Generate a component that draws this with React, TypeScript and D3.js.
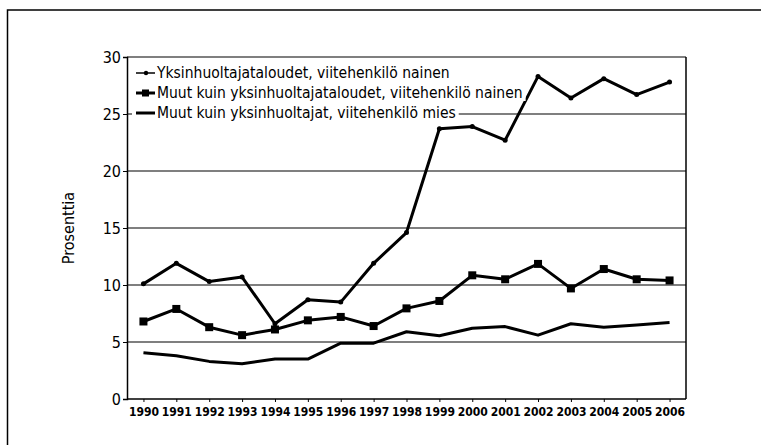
import React, { useRef, useEffect } from 'react';
import * as d3 from 'd3';

const years = [1990, 1991, 1992, 1993, 1994, 1995, 1996, 1997, 1998, 1999, 2000, 2001, 2002, 2003, 2004, 2005, 2006];
const yksinNainen = [10.1, 11.9, 10.3, 10.7, 6.6, 8.7, 8.5, 11.9, 14.6, 23.7, 23.9, 22.7, 28.3, 26.4, 28.1, 26.7, 27.8];
const muutNainen = [6.8, 7.9, 6.3, 5.6, 6.1, 6.9, 7.2, 6.4, 7.95, 8.6, 10.85, 10.5, 11.85, 9.7, 11.4, 10.5, 10.4];
const muutMies = [4.06, 3.8, 3.3, 3.1, 3.5, 3.5, 4.9, 4.9, 5.9, 5.55, 6.2, 6.35, 5.6, 6.6, 6.3, 6.5, 6.7];
const seriesNames = [
  'Yksinhuoltajataloudet, viitehenkilö nainen',
  'Muut kuin yksinhuoltajataloudet, viitehenkilö nainen',
  'Muut kuin yksinhuoltajat, viitehenkilö mies',
];
const yTicks = [0, 5, 10, 15, 20, 25, 30];

const W = 761;
const H = 445;
const left = 127;
const right = 686;
const top = 57;
const bottom = 399;
const font = "'DejaVu Sans Condensed', 'DejaVu Sans', sans-serif";

export default function App() {
  const ref = useRef<SVGSVGElement>(null);

  useEffect(() => {
    const svg = d3.select(ref.current);
    svg.selectAll('*').remove();

    const x = d3.scalePoint<number>().domain(years).range([left, right]).padding(0.5);
    const y = d3.scaleLinear().domain([0, 30]).range([bottom, top]);

    // outer frame
    svg.append('path')
      .attr('d', `M7.5,${H + 2} L7.5,10 L${W + 2},10`)
      .attr('fill', 'none').attr('stroke', '#000').attr('stroke-width', 1.5);

    // gridlines
    svg.append('g').selectAll('line').data(yTicks.filter((t) => t > 0)).join('line')
      .attr('x1', left).attr('x2', right)
      .attr('y1', (d) => y(d)).attr('y2', (d) => y(d))
      .attr('stroke', '#000').attr('stroke-width', 1.2);

    svg.append('line').attr('x1', right).attr('x2', right).attr('y1', top).attr('y2', bottom)
      .attr('stroke', '#000').attr('stroke-width', 1.5);

    const yAxis = d3.axisLeft(y).tickValues(yTicks).tickSize(4).tickPadding(2);
    const yg = svg.append('g').attr('transform', `translate(${left},0)`).call(yAxis);
    yg.select('.domain').attr('stroke-width', 1.5);
    yg.selectAll('text').attr('font-family', font).attr('font-size', 16).attr('fill', '#000');

    const xAxis = d3.axisBottom(x).tickSize(3).tickPadding(5).tickSizeOuter(0);
    const xg = svg.append('g').attr('transform', `translate(0,${bottom})`).call(xAxis);
    xg.select('.domain').attr('d', `M${left},0H${right}`).attr('stroke-width', 1.5);
    xg.selectAll('text').attr('font-family', font).attr('font-size', 12).attr('font-weight', 'bold').attr('fill', '#000');

    svg.append('text')
      .attr('transform', `translate(74,${(top + bottom) / 2}) rotate(-90)`)
      .attr('text-anchor', 'middle')
      .attr('font-family', font).attr('font-size', 16)
      .text('Prosenttia');

    const line = d3.line<number>().x((_, i) => x(years[i])!).y((d) => y(d));
    const data = [yksinNainen, muutNainen, muutMies];
    data.forEach((vals) => {
      svg.append('path').datum(vals).attr('d', line)
        .attr('fill', 'none').attr('stroke', '#000').attr('stroke-width', 3).attr('stroke-linejoin', 'round');
    });
    svg.append('g').selectAll('circle').data(yksinNainen).join('circle')
      .attr('cx', (_, i) => x(years[i])!).attr('cy', (d) => y(d)).attr('r', 2.5).attr('fill', '#000');
    svg.append('g').selectAll('rect').data(muutNainen).join('rect')
      .attr('x', (_, i) => x(years[i])! - 4).attr('y', (d) => y(d) - 4)
      .attr('width', 8).attr('height', 8).attr('fill', '#000');

    // legend
    const lg = svg.append('g');
    seriesNames.forEach((name, i) => {
      const ly = 73 + i * 20;
      const t = lg.append('text').attr('x', 157).attr('y', ly).attr('dy', '0.35em')
        .attr('font-family', font).attr('font-size', 15.5).text(name);
      const tw = (t.node() as SVGTextElement).getComputedTextLength();
      lg.insert('rect', 'text').attr('x', 132).attr('y', ly - 7).attr('width', tw + 28).attr('height', 15).attr('fill', '#fff');
      lg.append('line').attr('x1', 136).attr('x2', 155).attr('y1', ly).attr('y2', ly)
        .attr('stroke', '#000').attr('stroke-width', i === 0 ? 1.5 : 3);
      if (i === 0) lg.append('circle').attr('cx', 146).attr('cy', ly).attr('r', 2.2).attr('fill', '#000');
      if (i === 1) lg.append('rect').attr('x', 142).attr('y', ly - 3.5).attr('width', 7).attr('height', 7).attr('fill', '#000');
    });
  }, []);

  return (
    <svg ref={ref} width={W} height={H}
      style={{ position: 'absolute', left: 0, top: 0, display: 'block', background: '#fff' }} />
  );
}
